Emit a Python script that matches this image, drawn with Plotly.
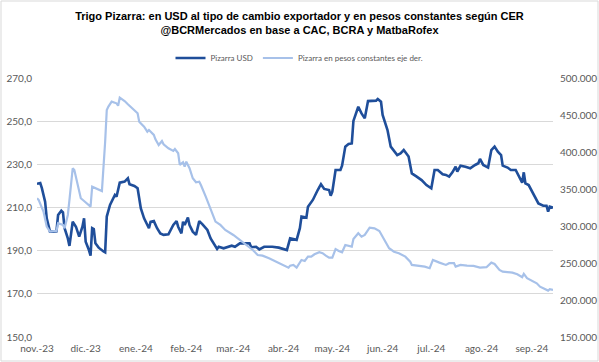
import plotly.graph_objects as go

usd_dates = ["2023-11-01","2023-11-03","2023-11-04","2023-11-06","2023-11-07","2023-11-09","2023-11-11","2023-11-13","2023-11-14","2023-11-16",
"2023-11-17","2023-11-18","2023-11-20","2023-11-21","2023-11-23","2023-11-25","2023-11-27","2023-11-29","2023-11-30","2023-12-01",
"2023-12-03","2023-12-04","2023-12-05","2023-12-06","2023-12-07","2023-12-09","2023-12-12","2023-12-13","2023-12-14","2023-12-16",
"2023-12-19","2023-12-20","2023-12-22","2023-12-25","2023-12-27","2023-12-28","2023-12-31","2024-01-02","2024-01-04","2024-01-06",
"2024-01-09","2024-01-10","2024-01-12","2024-01-14","2024-01-16","2024-01-17","2024-01-18","2024-01-21","2024-01-24","2024-01-26",
"2024-01-27","2024-01-29","2024-01-30","2024-01-31","2024-02-02","2024-02-03","2024-02-05","2024-02-07","2024-02-09","2024-02-11",
"2024-02-14","2024-02-16","2024-02-20","2024-02-21","2024-02-24","2024-02-29","2024-03-02","2024-03-05","2024-03-08","2024-03-11",
"2024-03-12","2024-03-15","2024-03-17","2024-03-20","2024-03-25","2024-03-29","2024-04-03","2024-04-05","2024-04-09","2024-04-11",
"2024-04-12","2024-04-15","2024-04-16","2024-04-19","2024-04-22","2024-04-24","2024-04-26","2024-04-29","2024-04-30","2024-05-01",
"2024-05-03","2024-05-06","2024-05-07","2024-05-09","2024-05-11","2024-05-13","2024-05-14","2024-05-17","2024-05-19","2024-05-21",
"2024-05-23","2024-05-26","2024-05-28","2024-05-29","2024-05-31","2024-06-01","2024-06-04","2024-06-06","2024-06-10","2024-06-12",
"2024-06-14","2024-06-17","2024-06-19","2024-06-22","2024-06-25","2024-06-27","2024-06-28","2024-07-01","2024-07-03","2024-07-05",
"2024-07-08","2024-07-10","2024-07-12","2024-07-14","2024-07-16","2024-07-17","2024-07-19","2024-07-22","2024-07-25","2024-07-28",
"2024-07-30","2024-07-31","2024-08-02","2024-08-05","2024-08-07","2024-08-09","2024-08-11","2024-08-13","2024-08-14","2024-08-17",
"2024-08-19","2024-08-22","2024-08-25","2024-08-26","2024-08-27","2024-08-28","2024-08-30","2024-09-01","2024-09-03","2024-09-05",
"2024-09-08","2024-09-10","2024-09-11","2024-09-12","2024-09-14"]
usd_values = [221.0,221.3,219.0,212.7,205.0,198.8,198.8,199.0,206.5,208.5,
207.8,200.4,195.7,192.2,203.4,201.1,196.5,201.1,205.0,194.2,
190.3,187.7,200.4,200.0,193.4,191.4,189.6,189.2,205.8,211.2,
215.8,215.0,221.5,222.0,223.5,220.8,220.0,218.9,209.6,205.0,
200.4,203.4,203.7,200.4,198.0,197.6,197.3,197.6,201.9,203.7,
201.1,198.0,203.4,201.9,205.3,201.9,198.8,197.3,203.7,202.2,
199.6,195.7,190.8,191.8,191.1,192.3,191.8,193.4,193.4,193.4,
191.6,191.8,190.6,191.8,191.8,191.4,190.3,195.7,195.0,200.4,
205.8,205.3,210.4,213.5,218.1,220.8,218.6,218.1,215.5,217.3,
227.4,227.4,229.4,238.2,239.4,239.7,250.1,256.7,253.6,251.3,
259.3,259.3,259.5,260.3,259.0,252.9,245.9,238.2,234.3,235.1,
236.6,233.6,225.8,224.3,222.7,221.2,220.4,218.9,227.4,227.4,
225.4,225.1,224.3,226.3,228.9,226.6,229.4,228.9,228.2,229.7,
230.5,232.5,229.7,228.5,236.6,238.2,235.9,234.3,229.4,228.5,
227.4,227.4,222.7,221.5,226.3,221.2,220.4,217.6,215.0,211.9,
210.8,210.8,208.1,210.4,209.9]

ars_dates = ["2023-11-01","2023-11-02","2023-11-05","2023-11-07","2023-11-09","2023-11-13","2023-11-14","2023-11-17","2023-11-18","2023-11-20",
"2023-11-21","2023-11-23","2023-11-24","2023-11-26","2023-11-28","2023-11-30","2023-12-02","2023-12-04","2023-12-05","2023-12-07",
"2023-12-09","2023-12-11","2023-12-13","2023-12-14","2023-12-15","2023-12-17","2023-12-20","2023-12-21","2023-12-22","2023-12-25",
"2023-12-27","2023-12-30","2024-01-02","2024-01-03","2024-01-06","2024-01-08","2024-01-09","2024-01-12","2024-01-13","2024-01-15",
"2024-01-17","2024-01-18","2024-01-21","2024-01-24","2024-01-25","2024-01-27","2024-01-28","2024-01-30","2024-01-31","2024-02-01",
"2024-02-03","2024-02-05","2024-02-07","2024-02-09","2024-02-10","2024-02-13","2024-02-16","2024-02-19","2024-02-22","2024-02-25",
"2024-03-01","2024-03-05","2024-03-09","2024-03-13","2024-03-16","2024-03-19","2024-03-23","2024-03-27","2024-03-31","2024-04-04",
"2024-04-05","2024-04-07","2024-04-09","2024-04-12","2024-04-14","2024-04-16","2024-04-18","2024-04-20","2024-04-23","2024-04-25",
"2024-04-27","2024-04-29","2024-05-01","2024-05-03","2024-05-05","2024-05-07","2024-05-09","2024-05-11","2024-05-13","2024-05-14",
"2024-05-17","2024-05-19","2024-05-21","2024-05-24","2024-05-27","2024-05-30","2024-06-02","2024-06-05","2024-06-08","2024-06-11",
"2024-06-15","2024-06-18","2024-06-19","2024-06-23","2024-06-27","2024-06-30","2024-07-02","2024-07-06","2024-07-10","2024-07-12",
"2024-07-15","2024-07-16","2024-07-19","2024-07-23","2024-07-27","2024-07-31","2024-08-04","2024-08-07","2024-08-09","2024-08-12",
"2024-08-14","2024-08-20","2024-08-23","2024-08-26","2024-08-27","2024-08-29","2024-09-01","2024-09-04","2024-09-06","2024-09-09",
"2024-09-11","2024-09-12","2024-09-14"]
ars_values = [337500,335200,319400,299100,292400,293300,303700,301400,297000,314900,
335200,378000,375700,355400,337500,333800,329400,326100,353100,351000,
348700,347300,413900,456800,461300,468000,465800,462600,473400,468900,
464500,459000,452300,441000,434200,427500,429700,423000,417200,409500,
414900,410400,405000,401400,404100,398300,382500,386100,380200,386900,
378000,364500,359100,359900,355400,339600,321700,305900,301400,294600,
287900,281100,275300,267600,260800,259900,256400,251800,247400,243700,
246400,247400,243700,254100,252800,258600,258600,261800,264500,263200,
259900,257200,257200,268900,266300,264500,274400,273400,272100,282500,
290200,285600,287900,297800,296900,293300,281100,269900,265300,263200,
258600,251800,247400,246400,245100,242900,254100,250500,247400,249700,
249700,245100,247400,246400,246000,243700,244300,250500,248700,240600,
238300,237000,234800,230800,235200,229400,225800,222600,218000,215400,
212700,214500,213600]

month_ticks = ["2023-11-01","2023-12-01","2024-01-01","2024-02-01","2024-03-01","2024-04-01",
               "2024-05-01","2024-06-01","2024-07-01","2024-08-01","2024-09-01"]
month_labels = ["nov.-23","dic.-23","ene.-24","feb.-24","mar.-24","abr.-24",
                "may.-24","jun.-24","jul.-24","ago.-24","sep.-24"]

title_text = ("<b>Trigo Pizarra: en USD al tipo de cambio exportador y en pesos constantes según CER"
              "<br>@BCRMercados en base a CAC, BCRA y MatbaRofex</b>")

ML, MR, MT, MB = 37, 46, 78, 25
W, H = 599, 362
pw, ph = W - ML - MR, H - MT - MB

fig = go.Figure()
fig.add_trace(go.Scatter(x=usd_dates, y=usd_values, name="Pizarra USD", mode="lines",
                         line=dict(color="#1F4E9A", width=2.6), yaxis="y"))
fig.add_trace(go.Scatter(x=ars_dates, y=ars_values, name="Pizarra en pesos constantes eje der.", mode="lines",
                         line=dict(color="#A7C1E9", width=2.2), yaxis="y2"))

tick_font = dict(family="Lato, Open Sans, sans-serif", size=10, color="#595959")

fig.update_layout(
    width=W, height=H,
    margin=dict(l=ML, r=MR, t=MT, b=MB, autoexpand=False),
    paper_bgcolor="white", plot_bgcolor="white",
    separators=",.",
    showlegend=True,
    title=dict(text=title_text, x=0.5, xref="container", xanchor="center",
               y=1 - 20 / H, yref="container", yanchor="middle",
               font=dict(family="Liberation Sans Narrow, Arial Narrow, Liberation Sans, sans-serif", size=11, color="#000000")),
    legend=dict(orientation="h", x=0.5, xref="container", xanchor="center",
                y=1 - 58 / H, yref="container", yanchor="middle",
                font=dict(family="Lato, Open Sans, sans-serif", size=8, color="#595959"),
                itemwidth=30, bgcolor="rgba(0,0,0,0)"),
    xaxis=dict(type="date", range=["2023-11-01", "2024-09-14"], tickvals=month_ticks, ticktext=month_labels,
               showgrid=False, zeroline=False, showline=False, ticks="", tickfont=tick_font, automargin=False,
               ticklabelstandoff=4),
    yaxis=dict(range=[150, 270], dtick=20, tick0=150, tickformat=".1f", showgrid=True, gridcolor="#D9D9D9",
               gridwidth=1, zeroline=False, showline=False, ticks="", tickfont=tick_font, automargin=False,
               ticklabelstandoff=4),
    yaxis2=dict(range=[150000, 500000], dtick=50000, tick0=150000, tickformat=",d", overlaying="y", side="right",
                showgrid=False, zeroline=False, showline=False, ticks="", tickfont=tick_font, automargin=False,
                ticklabelstandoff=6),
    shapes=[dict(type="rect", xref="paper", yref="paper",
                 x0=-(ML - 1) / pw, x1=1 + (MR - 1) / pw, y0=-(MB - 1) / ph, y1=1 + (MT - 1) / ph,
                 line=dict(color="#D9D9D9", width=1), fillcolor="rgba(0,0,0,0)", layer="below")],
)

fig.write_html("out.html", config={"displayModeBar": False},
               post_script="document.body.style.margin='0';")
